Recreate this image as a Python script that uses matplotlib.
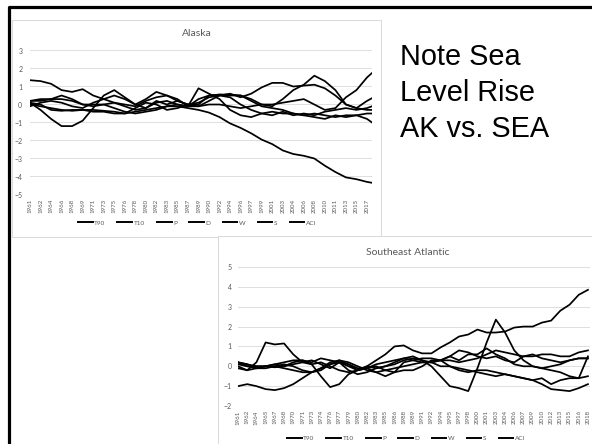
"""
Alaska vs. Southeast Atlantic climate index panels, with a short note.
"""

import numpy as np
import matplotlib.pyplot as plt
from matplotlib.lines import Line2D
from matplotlib.patches import Rectangle

W, H = 592, 444

series_names = ["T90", "T10", "P", "D", "W", "S", "ACI"]

# Alaska: values at each labelled month (every 21 months) plus the last month
ak_labels = ["1961", "1962", "1964", "1966", "1968", "1969", "1971", "1973", "1975",
             "1976", "1978", "1980", "1982", "1983", "1985", "1987", "1989", "1990",
             "1992", "1994", "1996", "1997", "1999", "2001", "2003", "2004", "2006",
             "2008", "2010", "2011", "2013", "2015", "2017"]
ak_t90 = [1.35, 1.3, 1.15, 0.8, 0.7, 0.85, 0.5, 0.3, 0.1, -0.1, -0.3, -0.2, 0.1, 0.2, 0.0,
          -0.1, 0.3, 0.5, 0.55, 0.55, 0.5, 0.2, -0.1, -0.2, -0.3, -0.5, -0.6, -0.5, -0.6,
          -0.7, -0.6, -0.6, -0.5, -0.5]
ak_t10 = [0.1, -0.3, -0.8, -1.2, -1.2, -0.9, -0.2, 0.5, 0.8, 0.4, 0.0, -0.2, 0.2, 0.0, 0.2,
          0.0, -0.1, 0.2, 0.5, 0.4, 0.0, -0.3, -0.5, -0.6, -0.4, -0.6, -0.5, -0.6, -0.4,
          -0.3, -0.2, -0.3, -0.2, -0.1]
ak_p = [0.2, 0.3, 0.3, 0.3, 0.2, 0.0, -0.1, 0.0, 0.1, 0.0, -0.1, 0.2, 0.4, 0.5, 0.3, -0.1,
        0.9, 0.6, 0.3, -0.3, -0.6, -0.7, -0.5, -0.4, -0.5, -0.5, -0.6, -0.7, -0.8, -0.6,
        -0.7, -0.6, -0.8, -1.0]
ak_d = [-0.1, 0.1, 0.2, 0.1, -0.1, -0.2, 0.1, 0.3, 0.5, 0.3, 0.0, 0.3, 0.7, 0.5, 0.2, 0.0,
        0.1, 0.4, 0.5, 0.6, 0.4, 0.6, 0.95, 1.2, 1.2, 1.0, 1.05, 1.1, 0.9, 0.5, 0.0, -0.2,
        0.2, 0.35]
ak_w = [0.1, 0.0, -0.3, -0.35, -0.3, -0.3, -0.4, -0.4, -0.5, -0.5, -0.2, 0.1, 0.0, -0.3,
        -0.2, 0.0, 0.0, 0.5, 0.55, 0.5, 0.5, 0.3, 0.0, -0.1, 0.3, 0.8, 1.1, 1.6, 1.3, 0.8,
        0.0, -0.2, -0.3, -0.3]
ak_s = [0.0, -0.1, -0.2, -0.3, -0.35, -0.3, -0.3, -0.35, -0.4, -0.5, -0.4, -0.3, -0.2,
        -0.1, -0.1, -0.2, -0.3, -0.45, -0.7, -1.05, -1.3, -1.6, -1.95, -2.2, -2.55, -2.75,
        -2.85, -3.0, -3.4, -3.75, -4.05, -4.15, -4.3, -4.35]
ak_aci = [0.2, 0.2, 0.3, 0.5, 0.3, 0.0, 0.0, 0.0, -0.2, -0.4, -0.5, -0.4, -0.3, -0.1, 0.0,
          -0.1, -0.1, 0.0, 0.0, -0.1, -0.2, -0.1, 0.0, 0.0, 0.1, 0.2, 0.3, 0.0, -0.3, -0.2,
          0.4, 0.8, 1.5, 1.75]

# Southeast Atlantic: values at each labelled month (every 18 months)
se_labels = ["1961", "1962", "1964", "1965", "1967", "1968", "1970", "1971", "1973",
             "1974", "1976", "1977", "1979", "1980", "1982", "1983", "1985", "1986",
             "1988", "1989", "1991", "1992", "1994", "1995", "1997", "1998", "2000",
             "2001", "2003", "2004", "2006", "2007", "2009", "2010", "2012", "2013",
             "2015", "2016", "2018"]
se_t90 = [-0.1, -0.2, 0.2, 1.2, 1.1, 1.15, 0.6, 0.2, 0.3, 0.1, -0.1, 0.2, 0.1, -0.2, -0.1,
          0.0, -0.2, -0.3, -0.2, -0.2, 0.0, 0.3, 0.3, 0.3, 0.2, 0.3, 0.4, 0.6, 0.8, 0.7,
          0.6, 0.5, 0.5, 0.6, 0.6, 0.5, 0.5, 0.7, 0.8]
se_t10 = [-1.0, -0.9, -1.0, -1.15, -1.2, -1.1, -0.9, -0.6, -0.3, -0.1, 0.1, 0.3, 0.1, -0.1,
          -0.1, 0.1, 0.2, 0.3, 0.4, 0.3, 0.2, 0.2, 0.3, 0.5, 0.8, 0.7, 0.5, 0.4, 0.5, 0.3,
          0.2, 0.5, 0.6, 0.4, 0.3, 0.2, 0.3, 0.4, 0.4]
se_p = [0.2, 0.1, 0.0, 0.0, 0.1, 0.2, 0.3, 0.3, 0.1, -0.5, -1.05, -0.9, -0.4, -0.2, -0.1,
        -0.3, -0.5, -0.3, 0.2, 0.3, 0.4, 0.4, 0.3, 0.0, -0.2, -0.3, -0.2, -0.2, -0.3, -0.4,
        -0.5, -0.6, -0.7, -0.6, -0.9, -0.7, -0.6, -0.6, -0.5]
se_d = [0.2, 0.0, -0.1, 0.0, 0.1, 0.0, 0.2, 0.3, 0.2, 0.4, 0.3, 0.2, 0.0, -0.2, 0.0, -0.1,
        0.0, 0.2, 0.4, 0.5, 0.3, 0.0, -0.5, -1.0, -1.1, -1.25, -0.1, 1.2, 2.35, 1.7, 0.8,
        0.3, 0.0, -0.1, 0.0, 0.1, 0.3, 0.4, 0.4]
se_w = [0.0, -0.2, -0.1, 0.0, 0.0, -0.1, -0.2, -0.3, -0.3, -0.1, 0.2, 0.3, 0.2, 0.0, -0.2,
        -0.3, -0.2, -0.1, 0.0, 0.1, 0.2, 0.2, 0.0, 0.0, -0.1, -0.2, -0.3, -0.4, -0.5, -0.4,
        -0.5, -0.6, -0.7, -0.9, -1.15, -1.2, -1.25, -1.1, -0.9]
se_s = [0.1, 0.0, 0.0, 0.0, -0.05, 0.0, 0.1, 0.2, 0.1, 0.2, 0.0, -0.2, -0.3, -0.2, 0.0,
        0.3, 0.6, 1.0, 1.05, 0.8, 0.65, 0.65, 0.95, 1.2, 1.5, 1.6, 1.85, 1.7, 1.7, 1.75,
        1.95, 2.0, 2.0, 2.2, 2.3, 2.8, 3.1, 3.6, 3.85]
se_aci = [0.2, 0.1, -0.1, -0.1, 0.0, 0.1, 0.0, -0.2, -0.3, -0.2, 0.1, 0.2, -0.2, -0.4,
          -0.3, -0.1, 0.0, 0.1, 0.3, 0.4, 0.3, 0.2, 0.3, 0.5, 0.3, 0.6, 0.6, 0.9, 0.6, 0.4,
          0.1, 0.0, 0.0, -0.1, -0.2, -0.3, -0.5, -0.6, 0.5]

ak_series = [ak_t90, ak_t10, ak_p, ak_d, ak_w, ak_s, ak_aci]
se_series = [se_t90, se_t10, se_p, se_d, se_w, se_s, se_aci]

GRAY = "#595959"
GRID = "#d9d9d9"
FONT = ["Lato", "DejaVu Sans"]


def box(x0, y0, x1, y1):
    """Pixel box (top-left origin) -> figure fraction [left, bottom, width, height]."""
    return [x0 / W, 1 - y1 / H, (x1 - x0) / W, (y1 - y0) / H]


def draw_panel(fig, rect, months, series, labels, step, ylim, xmax,
               title, title_xy, legend_xy, ypad):
    ax = fig.add_axes(box(*rect))
    ax.set_zorder(2)
    for values, name in zip(series, series_names):
        ax.plot(months, values, color="black", lw=1.25, label=name,
                solid_joinstyle="round")
    ax.set_xlim(0, xmax)
    ax.set_ylim(*ylim)
    ax.set_yticks(np.arange(ylim[0], ylim[1] + 1))
    ax.set_xticks(np.arange(len(labels)) * step)
    ax.set_xticklabels(labels, rotation=90, fontsize=4.4, color=GRAY, family=FONT)
    for t in ax.get_yticklabels():
        t.set_fontsize(5)
        t.set_color(GRAY)
        t.set_family(FONT)
    ax.tick_params(axis="both", length=0)
    ax.tick_params(axis="y", pad=ypad)
    ax.tick_params(axis="x", pad=3)
    ax.grid(axis="y", color=GRID, lw=0.6)
    ax.set_axisbelow(True)
    for sp in ax.spines.values():
        sp.set_visible(False)
    ax.set_facecolor("none")

    fig.text(title_xy[0] / W, 1 - title_xy[1] / H, title, ha="center", va="center",
             fontsize=7.5, color=GRAY, family=FONT, zorder=3)
    leg = ax.legend(loc="center", bbox_to_anchor=(legend_xy[0] / W, 1 - legend_xy[1] / H),
                    bbox_transform=fig.transFigure, ncol=7, frameon=False,
                    prop={"family": FONT, "size": 4.6}, handlelength=2.3,
                    handletextpad=0.25, columnspacing=1.9)
    for t in leg.get_texts():
        t.set_color(GRAY)
    for h in leg.get_lines():
        h.set_linewidth(1.4)
    return ax


fig = plt.figure(figsize=(W / 100, H / 100), dpi=100)
fig.patch.set_facecolor("white")

# slide border (top and left edges only are inside the frame)
fig.add_artist(Line2D([8.5 / W, 8.5 / W, 1.05], [-0.05, 1 - 7.5 / H, 1 - 7.5 / H],
                      transform=fig.transFigure, color="black", lw=2.3, zorder=5))

# chart frames, kept underneath the axes
fig.add_artist(Rectangle((12 / W, 1 - 237 / H), (381 - 12) / W, (237 - 20) / H,
                         transform=fig.transFigure, fill=False, ec=GRID, lw=0.7,
                         zorder=-2))
fig.add_artist(Rectangle((218 / W, -0.05), 0.7, 0.05 + 1 - 236 / H,
                         transform=fig.transFigure, fc="white", ec=GRID, lw=0.7,
                         zorder=-1))

ak_months = [21 * i for i in range(len(ak_labels))] + [682]
se_months = [18 * i for i in range(len(se_labels))]

draw_panel(fig, (30, 50.5, 372, 194.5), ak_months, ak_series, ak_labels, 21,
           (-5, 3), 682, "Alaska", (197, 33), (197, 223), 5.5)
draw_panel(fig, (238, 267, 590, 406), se_months, se_series, se_labels, 18,
           (-2, 5), 688, "Southeast Atlantic", (408, 252), (406, 438), 4.5)

for line, ybase in zip(["Note Sea", "Level Rise", "AK vs. SEA"], [65, 101, 137]):
    fig.text(400 / W, 1 - ybase / H, line, ha="left", va="baseline",
             fontsize=20.8, family="Liberation Sans", color="black")

fig.savefig("out.png", dpi=100)
